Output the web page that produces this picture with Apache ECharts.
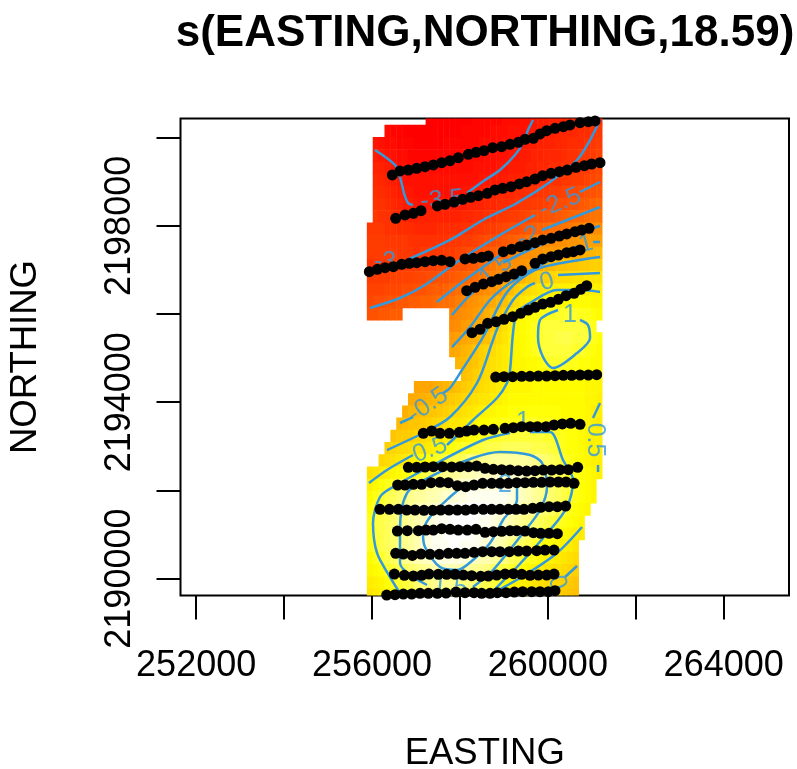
<!DOCTYPE html>
<html><head><meta charset="utf-8"><style>html,body{margin:0;background:#fff}#c{width:797px;height:769px}</style>
<script src="https://cdn.jsdelivr.net/npm/echarts@6/dist/echarts.min.js"></script></head><body><div id="c"></div>
<script>
const titleText='s(EASTING,NORTHING,18.59)';
const xTicks=[252000,254000,256000,258000,260000,262000,264000];
const xLabels=[252000,256000,260000,264000];
const yTicks=[2190000,2192000,2194000,2196000,2198000,2200000];
const yLabels=[2190000,2194000,2198000];
const eastings=[255950,256084,256217,256351,256485,256619,256752,256886,257020,257153,257287,257421,257554,257688,257822,257956,258089,258223,258357,258490,258624,258758,258892,259025,259159,259293,259426,259560,259694,259828,259961,260095,260229,260362,260496,260630,260764,260897,261031,261165];
const northings=[2200430,2200153,2199877,2199600,2199323,2199047,2198770,2198493,2198216,2197940,2197663,2197386,2197110,2196833,2196556,2196280,2196003,2195726,2195449,2195173,2194896,2194619,2194343,2194066,2193789,2193513,2193236,2192959,2192682,2192406,2192129,2191852,2191576,2191299,2191022,2190746,2190469,2190192,2189915,2189640];
// first present column of each fitted row; values are tenths of the smooth's value
const rowStart=[10,3,1,1,1,1,1,1,1,0,0,0,0,0,0,0,0,14,14,14,15,16,8,7,6,5,4,3,2,0,0,0,0,0,0,0,0,0,0,0];
const field=[
[-39,-39,-39,-39,-39,-39,-39,-39,-38,-38,-38,-38,-38,-37,-37,-37,-36,-36,-35,-34,-34,-33,-33,-33,-32,-32,-31,-31,-30,-30],
[-37,-38,-38,-39,-39,-39,-39,-39,-39,-39,-39,-39,-39,-38,-38,-38,-38,-38,-37,-37,-37,-36,-36,-36,-35,-35,-34,-34,-33,-33,-32,-32,-32,-31,-31,-30,-29],
[-35,-36,-37,-37,-38,-38,-38,-39,-39,-39,-39,-39,-38,-38,-38,-38,-38,-38,-37,-37,-37,-37,-36,-36,-36,-35,-34,-34,-33,-33,-33,-32,-32,-31,-31,-31,-30,-29,-28],
[-34,-35,-36,-36,-37,-37,-38,-38,-38,-38,-38,-38,-38,-38,-38,-37,-37,-37,-37,-36,-36,-36,-36,-35,-35,-34,-34,-33,-33,-32,-32,-32,-31,-30,-30,-29,-29,-28,-27],
[-33,-33,-34,-35,-36,-36,-37,-37,-37,-37,-37,-37,-37,-37,-37,-37,-37,-36,-36,-36,-36,-35,-35,-34,-34,-34,-33,-33,-32,-32,-31,-31,-30,-30,-29,-29,-28,-27,-26],
[-32,-32,-33,-34,-35,-36,-36,-36,-36,-36,-36,-36,-36,-36,-36,-36,-36,-36,-35,-35,-34,-34,-34,-33,-33,-33,-32,-32,-31,-31,-30,-30,-29,-29,-28,-28,-27,-26,-25],
[-31,-31,-32,-33,-34,-35,-35,-36,-36,-36,-36,-36,-36,-36,-36,-35,-35,-34,-34,-33,-33,-32,-32,-32,-31,-31,-30,-30,-29,-29,-28,-28,-27,-26,-26,-25,-24,-24,-23],
[-30,-30,-31,-32,-33,-34,-34,-35,-35,-35,-35,-34,-34,-34,-34,-34,-33,-33,-33,-32,-32,-31,-31,-31,-30,-29,-29,-28,-28,-27,-26,-25,-25,-24,-24,-23,-22,-21,-20],
[-29,-30,-30,-31,-32,-32,-33,-33,-33,-33,-33,-33,-33,-33,-33,-32,-32,-31,-31,-30,-30,-29,-29,-28,-28,-27,-26,-25,-25,-24,-24,-23,-22,-21,-20,-20,-19,-18,-18],
[-29,-29,-29,-30,-30,-31,-31,-31,-32,-32,-32,-32,-31,-31,-31,-31,-30,-30,-29,-29,-28,-28,-27,-26,-25,-25,-24,-23,-22,-21,-20,-19,-19,-18,-17,-16,-15,-14,-14,-13],
[-28,-28,-28,-29,-29,-29,-29,-30,-30,-30,-30,-30,-30,-30,-29,-29,-28,-28,-27,-26,-25,-25,-24,-23,-22,-21,-20,-18,-16,-15,-14,-14,-13,-13,-12,-12,-11,-11,-10,-10],
[-28,-28,-28,-28,-28,-29,-29,-29,-30,-29,-29,-29,-29,-28,-28,-27,-26,-25,-25,-24,-23,-22,-21,-20,-16,-14,-13,-13,-12,-12,-11,-11,-11,-10,-9,-8,-8,-7,-6,-5],
[-30,-29,-29,-29,-29,-29,-28,-28,-28,-27,-27,-27,-26,-26,-25,-24,-24,-23,-22,-20,-18,-17,-15,-14,-13,-13,-12,-11,-10,-8,-6,-5,-4,-4,-3,-3,-2,-2,-1,-1],
[-28,-28,-28,-28,-27,-27,-27,-27,-26,-26,-25,-25,-24,-24,-23,-22,-21,-20,-19,-17,-16,-15,-14,-12,-11,-10,-6,-4,-3,-2,-1,0,1,1,1,2,2,3,3,3],
[-27,-27,-27,-26,-26,-26,-25,-25,-24,-24,-23,-22,-22,-21,-20,-19,-18,-17,-15,-14,-13,-12,-11,-8,-5,-2,0,1,2,3,4,4,5,5,5,5,5,5,5,5],
[-26,-25,-25,-24,-24,-23,-23,-22,-22,-21,-21,-20,-19,-19,-18,-16,-15,-13,-12,-11,-10,-8,-6,-4,-1,1,3,4,5,6,7,7,7,7,7,7,7,7,6,6],
[-24,-24,-23,-23,-22,-22,null,null,null,null,null,null,null,null,-15,-14,-13,-12,-11,-9,-7,-5,-3,-1,2,5,6,7,8,8,9,9,10,10,10,10,9,9,8,7],
[-14,-13,-11,-10,-8,-7,-5,-3,0,2,4,6,7,8,9,10,11,11,11,11,11,11,11,10,9],
[-11,-10,-9,-8,-7,-5,-4,-1,1,3,5,6,7,8,9,10,11,11,12,12,12,11,11,11,9,8],
[-9,-8,-6,-5,-3,-1,0,1,3,4,5,6,7,8,9,10,11,11,11,11,11,10,10,9,8,7],
[-6,-5,-4,-3,-1,1,2,3,4,5,6,6,7,7,8,9,10,10,10,9,9,8,8,7,7],
[-4,-3,-1,0,1,2,3,4,5,6,6,6,7,7,7,8,8,8,8,8,7,7,7,6],
[-9,-9,-9,-8,-7,-6,-5,-4,-2,-1,0,1,2,3,4,5,6,6,6,6,7,7,7,7,7,7,7,7,7,6,6,6],
[-8,-8,-7,-6,-5,-4,-3,-2,-1,0,1,2,3,3,4,5,6,7,7,7,7,7,7,7,7,7,7,7,7,7,6,6,5],
[-7,-5,-5,-4,-3,-3,-2,-1,0,1,2,3,4,5,6,6,7,7,8,8,8,8,8,8,8,8,8,7,7,7,7,6,5,5],
[-5,-4,-3,-3,-2,-1,0,1,2,3,3,4,5,6,7,7,8,8,9,9,9,10,10,10,9,9,9,8,8,7,7,7,6,5,4],
[-3,-2,-2,-1,0,1,2,3,3,4,5,5,6,7,8,9,10,10,10,11,11,11,11,11,11,11,10,10,9,9,8,8,7,6,5,5],
[-1,0,1,1,2,3,3,4,5,6,7,8,9,10,10,11,11,12,12,12,13,13,13,13,13,12,12,12,11,10,9,8,8,7,6,5,5],
[0,1,2,3,4,5,6,7,8,9,10,11,12,12,13,15,15,16,16,17,17,17,17,17,17,17,16,15,14,13,12,10,9,8,7,6,5,5],
[2,3,4,5,6,7,8,9,10,11,12,14,15,16,16,17,18,18,19,19,19,19,20,20,20,20,19,18,17,16,15,14,13,12,10,9,8,7,6,5],
[5,7,8,9,10,12,13,14,15,16,17,18,18,18,19,19,20,20,21,21,21,21,21,21,21,20,19,18,17,16,15,14,13,12,11,10,8,7,6],
[7,9,10,12,13,14,15,16,17,17,18,18,19,20,20,21,21,22,22,22,22,22,22,22,21,20,19,18,17,16,15,14,13,12,10,9,8,7,6],
[8,10,11,12,14,15,16,17,18,19,19,20,20,21,22,22,23,23,23,23,23,22,22,21,20,19,18,17,16,15,14,13,12,11,9,8,7,6],
[9,11,12,13,14,15,16,17,18,19,20,21,22,22,23,23,23,23,23,22,22,21,20,19,18,17,16,15,14,13,12,11,10,9,8,7,6],
[9,11,12,13,14,15,16,17,18,20,21,22,22,23,23,23,23,23,22,22,21,20,19,18,17,16,15,14,13,12,10,9,8,7,6,5,4],
[9,10,12,13,14,15,16,17,18,20,21,22,22,22,23,23,22,22,22,21,20,19,18,17,15,14,13,12,10,9,8,7,6,5,4,3],
[7,9,10,12,13,14,16,17,18,19,19,20,21,21,21,21,21,20,19,18,18,17,16,15,13,12,11,9,9,7,6,5,4,3,2,1],
[6,7,8,10,11,12,13,14,15,16,17,18,18,19,18,18,17,17,16,16,15,14,12,11,10,9,8,6,5,4,3,2,2,1,0,-1],
[4,5,6,8,9,10,11,12,14,15,15,16,16,16,16,16,15,15,14,13,12,11,10,8,6,5,5,4,3,2,1,1,0,-1,-2,-3],
[3,4,5,6,8,9,10,11,12,13,14,14,15,15,14,14,13,13,12,11,10,8,7,6,5,4,3,3,2,1,1,0,-1,-2,-3,-4]
];
const c35a=[[256068,256523,256637,256728,256819,256933],[2199720,2199380,2199108,2198745,2198518,2198473]];
const c35b=[[258161,258571,258912,259253,259435,259549,259663],[2198745,2199040,2199267,2199607,2199879,2200174,2200401]];
const c30=[[256796,257775,258525,259299,260050,260664,260960,261187],[2197226,2197680,2198133,2198518,2198995,2199494,2199947,2200401]];
const c25a=[[255955,256637,257206,258002,258912,259708],[2196137,2196364,2196659,2197226,2197793,2198247]];
const c25b=[[260732,261187],[2198768,2198995]];
const c20a=[[257479,258116,258980,259253],[2196273,2196772,2197385,2197566]];
const c20b=[[259868,261187],[2197907,2198428]];
const c15a=[[257820,258161,258525],[2195978,2196364,2196704]];
const c15b=[[258980,259822,260504,261187],[2197158,2197566,2197793,2197998]];
const c10a=[[257820,258230,258685,259140,259822,260504],[2195252,2195706,2196319,2196704,2197112,2197407]];
const c10b=[[261028,261187],[2197634,2197634]];
const c05a=[[261187,259890,259413,259026,258525,258048,257775,257615],[2197294,2197067,2196817,2196432,2195479,2194731,2194323,2194209]];
const c05b=[[256933,256637],[2193665,2193529]];
const c00a=[[261187,260232],[2196931,2196885]];
const c00b=[[259708,259526,259208,258867,258753,258389,257775,257160,256341],[2196704,2196613,2196319,2195706,2195411,2194436,2193665,2193302,2192916]];
const c00c=[[260664,260391],[2190286,2190036]];
const c50a=[[261187,260800,260209,259595,259299,259208,259140,259071,258844,258298,258002,257706],[2196500,2196545,2196545,2196251,2196024,2195570,2194731,2194436,2194096,2193597,2193302,2193030]];
const c50b=[[256933,256341,255932],[2192803,2192464,2192168]];
const c50c=[[261187,261028],[2193983,2193642]];
const c50d=[[261142,261142],[2192577,2192418]];
const c50e=[[260778,260209,259481,258753],[2191170,2190581,2190082,2189673]];
const c100a=[[259595,260050,260345,260573,260436,260050,259299,258844,258685],[2193325,2193325,2192690,2192236,2191624,2191102,2190263,2189809,2189605]];
const c100b=[[256637,256410,256114,256023,256182,256478,257388,258525,259140],[2189673,2190036,2190581,2191261,2191851,2192077,2192577,2193143,2193302]];
const c100c=[[260232,259822,259777,259890,260118,260664,260960,260914,260732],[2196092,2195865,2195479,2195025,2194776,2195116,2195456,2195751,2195865]];
const c150=[[257251,256637,256637,256796,257320,258298,258912,259595,259868,259981,259822,259435,258753,258298],[2189855,2190354,2191102,2191941,2192305,2192735,2192871,2192803,2192622,2192077,2191556,2191034,2190195,2189809]];
const c200=[[259299,259299,258980,258685,258298,257934,257547,257206,257160,257320,257775,258070,258457],[2192077,2191783,2191329,2190807,2190422,2190195,2190263,2190717,2191034,2191397,2191851,2192077,2192168]];
const contourLines=[c35a,c35b,c30,c25a,c25b,c20a,c20b,c15a,c15b,c10a,c10b,c05a,c05b,c00a,c00b,c00c,c50a,c50b,c50c,c50d,c50e,c100a,c100b,c100c,c150,c200];
const labelText=['-3.5','-3','-2.5','-2','-1.5','-1','0','1','-0.5','0.5','0.5','1','2','1.5','0'];
const labelE=[257592,256296,260277,259549,258753,260778,259981,260504,257274,257320,261073,259435,259026,257775,260209];
const labelN=[2198586,2197181,2198518,2197748,2196931,2197566,2196727,2195978,2193937,2192916,2193143,2193552,2192123,2189809,2189900];
const labelTilt=[5,0,22,20,40,15,15,0,35,20,-90,0,0,-5,-70];
const t1=[[256463,256637,256827,257017,257206,257396,257585,257775,257964,258192,258366,258548,258746,258950,259140,259329,259481,259671,259822,259974,260163,260353,260505,260732,260922,261074],[2199154,2199245,2199267,2199305,2199343,2199381,2199434,2199479,2199547,2199623,2199668,2199706,2199774,2199796,2199849,2199895,2199963,2199985,2200084,2200159,2200212,2200250,2200288,2200341,2200363,2200379]];
const t2=[[256539,256751,256941,257115,257487,257661,257866,258063,258245,258420,258624,258799,258973,259163,259352,259519,259709,259883,260073,260262,260444,260641,260831,260998,261187],[2198171,2198247,2198284,2198345,2198451,2198489,2198541,2198602,2198647,2198685,2198738,2198814,2198851,2198889,2198950,2199003,2199063,2199139,2199192,2199229,2199267,2199328,2199365,2199403,2199433]];
const t3=[[255940,256122,256296,256486,256675,256850,257017,257206,257396,257585,257775,258116,258306,258496,258647,258988,259178,259367,259519,259709,259883,260073,260262,260429,260619,260770,260937],[2196961,2197014,2197052,2197075,2197128,2197150,2197165,2197188,2197211,2197218,2197188,2197249,2197264,2197287,2197317,2197415,2197468,2197528,2197566,2197619,2197680,2197717,2197770,2197816,2197868,2197906,2197944]];
const t4=[[258154,258344,258533,258723,258874,259049,259231,259405,259709,259883,260073,260240,260429,260581,260732],[2196530,2196606,2196681,2196734,2196787,2196848,2196908,2196984,2197150,2197249,2197302,2197339,2197392,2197415,2197453]];
const t5=[[258275,258457,258632,258821,259003,259200,259382,259557,259709,259883,260065,260240,260414,260596,260747,260884],[2195578,2195653,2195789,2195827,2195880,2195941,2196016,2196092,2196152,2196228,2196266,2196334,2196417,2196470,2196561,2196644]];
const t6=[[258814,259003,259200,259405,259595,259784,259974,260163,260353,260543,260732,260922,261111],[2194572,2194580,2194580,2194587,2194587,2194595,2194595,2194603,2194610,2194610,2194618,2194618,2194625]];
const t7=[[257168,257358,257547,257760,257987,258154,258321,258548,258761,259026,259216,259405,259595,259762,259959,260141,260330,260520,260732],[2193295,2193348,2193295,2193295,2193317,2193348,2193370,2193370,2193385,2193408,2193423,2193446,2193446,2193446,2193446,2193484,2193507,2193522,2193499]];
const t8=[[256827,257017,257206,257396,257608,257813,258002,258192,258382,258571,258761,258950,259140,259329,259519,259709,259898,260088,260277,260467,260679],[2192523,2192523,2192531,2192538,2192538,2192531,2192538,2192538,2192554,2192501,2192478,2192470,2192463,2192448,2192440,2192448,2192463,2192463,2192470,2192470,2192523]];
const t9=[[256584,256751,256941,257130,257343,257547,257737,257942,258131,258321,258518,258723,258912,259102,259292,259481,259671,259860,260050,260240,260414,260596],[2192123,2192123,2192138,2192138,2192176,2192183,2192176,2192107,2192085,2192123,2192160,2192160,2192160,2192160,2192176,2192176,2192183,2192183,2192191,2192191,2192191,2192160]];
const t10=[[256182,256395,256600,256789,256979,257183,257381,257563,257752,257942,258131,258321,258533,258723,258912,259102,259276,259458,259656,259838,260027,260217,260406],[2191571,2191571,2191571,2191556,2191556,2191548,2191548,2191556,2191556,2191556,2191556,2191571,2191571,2191571,2191571,2191571,2191571,2191571,2191593,2191616,2191631,2191631,2191646]];
const t11=[[256577,256804,257055,257229,257396,257585,257775,257964,258169,258366,258571,258761,258950,259140,259292,259481,259671,259838,260027,260217],[2191079,2191087,2191087,2191102,2191102,2191132,2191117,2191102,2191102,2191117,2191049,2191064,2191072,2191087,2191087,2191079,2191042,2191026,2191026,2191019]];
const t12=[[256539,256713,256918,257115,257320,257532,257737,257927,258116,258321,258518,258723,258912,259125,259329,259519,259746,259936,260141],[2190573,2190558,2190527,2190558,2190550,2190550,2190573,2190573,2190573,2190596,2190611,2190611,2190611,2190611,2190626,2190626,2190633,2190648,2190648]];
const t13=[[256509,256736,256941,257130,257297,257509,257699,257889,258078,258268,258473,258647,258837,259026,259216,259405,259595,259784,259974,260141],[2190104,2190074,2190059,2190074,2190104,2190097,2190097,2190097,2190081,2190066,2190051,2190059,2190081,2190104,2190112,2190097,2190074,2190081,2190081,2190104]];
const t14=[[256334,256524,256713,256903,257092,257282,257487,257684,257911,258116,258321,258496,258685,258852,259049,259238,259428,259633,259822,260012,260163],[2189628,2189635,2189650,2189650,2189666,2189666,2189666,2189673,2189696,2189681,2189681,2189666,2189666,2189681,2189681,2189696,2189703,2189703,2189703,2189703,2189726]];
const transects=[t1,t2,t3,t4,t5,t6,t7,t8,t9,t10,t11,t12,t13,t14];

const FONT='Liberation Sans', BLUE='#3399DD';
const cells=[];
field.forEach((row,j)=>row.forEach((v,i)=>{ if(v!==null) cells.push([eastings[rowStart[j]+i],northings[j],v/10]); }));
const dots=[];
transects.forEach(t=>t[0].forEach((e,i)=>dots.push([e,t[1][i]])));
const series=[{
  type:'custom',clip:true,silent:true,z:1,data:cells,encode:{x:0,y:1},
  renderItem(p,api){
    const c=api.coord([api.value(0),api.value(1)]),s=api.size([eastings[1]-eastings[0],northings[0]-northings[1]]);
    return {type:'rect',shape:{x:c[0]-s[0]/2,y:c[1]-s[1]/2,width:s[0]+0.5,height:s[1]+0.5},style:{fill:api.visual('color')}};
  }
}];
contourLines.forEach(l=>series.push({type:'line',z:2,silent:true,clip:true,smooth:0.3,showSymbol:false,symbol:'none',
  data:l[0].map((e,i)=>[e,l[1][i]]),lineStyle:{color:BLUE,width:2.5}}));
series.push({type:'scatter',z:3,silent:true,clip:false,symbolSize:0,
  data:labelText.map((t,i)=>({value:[labelE[i],labelN[i]],label:{show:true,position:'inside',formatter:t,rotate:labelTilt[i],color:BLUE,fontSize:25,fontFamily:FONT}}))});
series.push({type:'scatter',z:4,silent:true,clip:true,symbol:'circle',symbolSize:11,itemStyle:{color:'#000',opacity:1},data:dots});

const chart=echarts.init(document.getElementById('c'),null,{renderer:'canvas'});
chart.setOption({
  animation:false,backgroundColor:'#fff',
  title:{text:titleText,left:480,top:7,textAlign:'center',textStyle:{fontFamily:FONT,fontSize:44,fontWeight:'bold',color:'#000'}},
  grid:{left:180.5,top:118.5,width:608.5,height:477,outerBoundsMode:'none',containLabel:false,show:true,borderColor:'#000',borderWidth:2,backgroundColor:'#fff',z:0},
  visualMap:{show:false,type:'continuous',seriesIndex:0,dimension:2,min:-3.9,max:2.3,inRange:{color:['#FF0000','#FF5500','#FFAA00','#FFFF00','#FFFFFF']}},
  xAxis:{type:'value',min:251644,max:265486,splitLine:{show:false},axisLine:{show:false},
    axisTick:{show:true,length:24,customValues:xTicks,lineStyle:{color:'#000',width:2}},
    axisLabel:{show:true,customValues:xLabels,formatter:v=>String(v),margin:53,color:'#000',fontSize:36,fontFamily:FONT,hideOverlap:false,showMinLabel:true,showMaxLabel:true},
    name:'EASTING',nameLocation:'middle',nameGap:140,nameTextStyle:{color:'#000',fontSize:36.5,fontFamily:FONT}},
  yAxis:{type:'value',min:2189617,max:2200435,splitLine:{show:false},axisLine:{show:false},
    axisTick:{show:true,length:24,customValues:yTicks,lineStyle:{color:'#000',width:2}},
    axisLabel:{show:true,customValues:yLabels,formatter:v=>String(v),rotate:90,margin:42,color:'#000',fontSize:36,fontFamily:FONT,hideOverlap:false},
    name:'NORTHING',nameLocation:'middle',nameGap:136,nameRotate:90,nameTextStyle:{color:'#000',fontSize:36.5,fontFamily:FONT}},
  series
});
</script></body></html>
